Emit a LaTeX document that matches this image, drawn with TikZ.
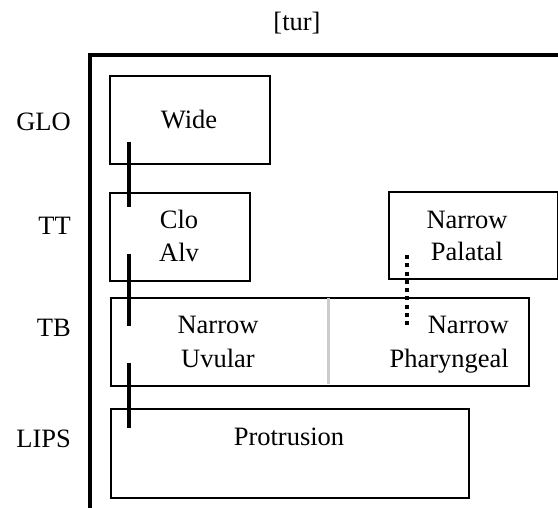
\documentclass[tikz,border=0pt]{standalone}
\usepackage{fontspec}
\setmainfont{Liberation Serif}
\begin{document}
\begin{tikzpicture}[x=1pt,y=-1pt,
  every node/.style={font=\fontsize{26.5}{33}\selectfont, inner sep=0pt},
  gesture/.style={draw, line width=1.6pt, anchor=north west},
  word/.style={anchor=base},
  tierlabel/.style={anchor=base east},
  assoc/.style={line width=4pt},
  phasing/.style={line width=3.5pt, dash pattern=on 4pt off 4.3pt}]
\useasboundingbox (0,0) rectangle (558,508);
% frame
\coordinate (frame bottom) at (90,508);
\coordinate (frame corner) at (90,55);
\coordinate (frame right) at (560,55);
\draw[line width=4.5pt] (frame bottom) -- (frame corner) -- (frame right);
\node[word] (title) at (297,31) {[tur]};
% tier labels
\node[tierlabel] (glo) at (71,131) {GLO};
\node[tierlabel] (tt) at (71,235) {TT};
\node[tierlabel] (tb) at (71,337) {TB};
\node[tierlabel] (lips) at (71,447) {LIPS};
% gestures
\node[gesture, minimum width=160pt, minimum height=88pt] (wide) at (109,75) {};
\node[word] (widetxt) at (189,129) {Wide};
\node[gesture, minimum width=140pt, minimum height=88pt] (cloalv) at (109,192) {};
\node[word] (clo) at (179,229) {Clo};
\node[word] (alv) at (179,262) {Alv};
\node[gesture, minimum width=169pt, minimum height=87pt] (palatal) at (388,191) {};
\node[word] (narrowpal) at (467,229) {Narrow};
\node[word] (palataltxt) at (467,261) {Palatal};
\node[gesture, minimum width=418pt, minimum height=88pt] (tbbox) at (110,297) {};
\draw[gray!40, line width=3pt] (328,298.5) -- (328,384);
\node[word] (narrowuv) at (218,334) {Narrow};
\node[word] (uvular) at (218,367) {Uvular};
\node[tierlabel] (narrowph) at (509,334) {Narrow};
\node[tierlabel] (pharyngeal) at (509,367) {Pharyngeal};
\node[gesture, minimum width=358pt, minimum height=89pt] (lipsbox) at (110,408) {};
\node[word] (protrusion) at (289,446) {Protrusion};
% coordination
\coordinate (a1) at (129,142);
\coordinate (a2) at (129,207);
\coordinate (b1) at (129,254);
\coordinate (b2) at (129,326);
\coordinate (c1) at (129,363);
\coordinate (c2) at (129,428);
\draw[assoc] (a1) -- (a2);
\draw[assoc] (b1) -- (b2);
\draw[assoc] (c1) -- (c2);
\coordinate (d1) at (407,255);
\coordinate (d2) at (407,326);
\draw[phasing] (d1) -- (d2);
\end{tikzpicture}
\end{document}
